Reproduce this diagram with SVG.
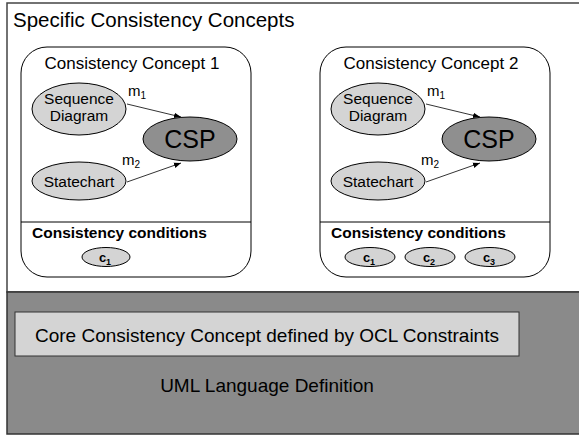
<svg xmlns="http://www.w3.org/2000/svg" width="579" height="436" viewBox="0 0 579 436">
<defs>
<style>
text{font-family:"Liberation Sans",Arial,sans-serif;fill:#000}
.light{fill:#d4d4d4;stroke:#000;stroke-width:1}
.csp{fill:#8f8f8f;stroke:#000;stroke-width:1}
.concept{fill:#fff;stroke:#000;stroke-width:1}
.conn{stroke:#000;stroke-width:0.8;fill:none;marker-end:url(#arr)}
.n{font-size:15.5px;text-anchor:middle}
.lbl{font-size:15px}
.cc{font-size:15.5px;font-weight:bold}
.c{font-size:13px;font-weight:bold;text-anchor:middle}
.cspt{font-size:25px;text-anchor:middle}
</style>
<marker id="arr" viewBox="0 0 10 10" refX="10" refY="5" markerWidth="7" markerHeight="7" orient="auto" markerUnits="userSpaceOnUse">
<path d="M0,1 L10,5 L0,9 z" fill="#000"/>
</marker>
</defs>
<rect x="0" y="0" width="579" height="436" fill="#fff"/>
<g id="specific">
<rect x="7" y="3" width="580" height="289" fill="#fff" stroke="#444" stroke-width="1.5"/>
<text x="13" y="27" font-size="20.5">Specific Consistency Concepts</text>
</g>
<g id="uml">
<rect x="7" y="292" width="580" height="142" fill="#8a8a8a" stroke="#333" stroke-width="1.5"/>
<text x="267" y="392" font-size="19" text-anchor="middle">UML Language Definition</text>
</g>
<g id="core">
<rect x="15" y="312" width="504" height="44" fill="#d4d4d4" stroke="#333" stroke-width="1"/>
<text x="267" y="342" font-size="19" text-anchor="middle">Core Consistency Concept defined by OCL Constraints</text>
</g>
<g id="concept1">
<rect class="concept" x="21" y="47" width="230" height="230" rx="26" ry="26"/>
<line x1="21" y1="222" x2="251" y2="222" stroke="#000"/>
<text x="132" y="69" font-size="17" text-anchor="middle">Consistency Concept 1</text>
<text class="cc" x="32" y="238">Consistency conditions</text>
</g>
<g id="seq1"><ellipse class="light" cx="79" cy="109" rx="47" ry="26"/><text class="n" x="79" y="104">Sequence</text><text class="n" x="79" y="121">Diagram</text></g>
<g id="csp1"><ellipse class="csp" cx="190" cy="139" rx="47" ry="22"/><text class="cspt" x="190" y="148">CSP</text></g>
<g id="state1"><ellipse class="light" cx="79" cy="181" rx="47" ry="19"/><text class="n" x="79" y="187">Statechart</text></g>
<g id="c1a"><ellipse class="light" cx="106" cy="257" rx="24" ry="9.5"/><text class="c" x="105" y="262">c<tspan font-size="9" dy="3">1</tspan></text></g>
<g id="concept2">
<rect class="concept" x="320" y="47" width="230" height="230" rx="26" ry="26"/>
<line x1="320" y1="222" x2="550" y2="222" stroke="#000"/>
<text x="431" y="69" font-size="17" text-anchor="middle">Consistency Concept 2</text>
<text class="cc" x="331" y="238">Consistency conditions</text>
</g>
<g id="seq2"><ellipse class="light" cx="378" cy="109" rx="47" ry="26"/><text class="n" x="378" y="104">Sequence</text><text class="n" x="378" y="121">Diagram</text></g>
<g id="csp2"><ellipse class="csp" cx="489" cy="139" rx="47" ry="22"/><text class="cspt" x="489" y="148">CSP</text></g>
<g id="state2"><ellipse class="light" cx="378" cy="181" rx="47" ry="19"/><text class="n" x="378" y="187">Statechart</text></g>
<g id="c1b"><ellipse class="light" cx="370" cy="257" rx="25" ry="9.5"/><text class="c" x="369" y="262">c<tspan font-size="9" dy="3">1</tspan></text></g>
<g id="c2b"><ellipse class="light" cx="430" cy="257" rx="25" ry="9.5"/><text class="c" x="429" y="262">c<tspan font-size="9" dy="3">2</tspan></text></g>
<g id="c3b"><ellipse class="light" cx="490" cy="257" rx="25" ry="9.5"/><text class="c" x="489" y="262">c<tspan font-size="9" dy="3">3</tspan></text></g>
<g id="connectors">
<line class="conn" x1="127" y1="104" x2="181" y2="117"/>
<line class="conn" x1="127" y1="182" x2="181" y2="163"/>
<line class="conn" x1="426" y1="104" x2="480" y2="117"/>
<line class="conn" x1="426" y1="182" x2="480" y2="163"/>
<text class="lbl" x="128" y="96">m<tspan font-size="10" dy="3">1</tspan></text>
<text class="lbl" x="122" y="165">m<tspan font-size="10" dy="3">2</tspan></text>
<text class="lbl" x="427" y="96">m<tspan font-size="10" dy="3">1</tspan></text>
<text class="lbl" x="421" y="165">m<tspan font-size="10" dy="3">2</tspan></text>
</g>
</svg>
